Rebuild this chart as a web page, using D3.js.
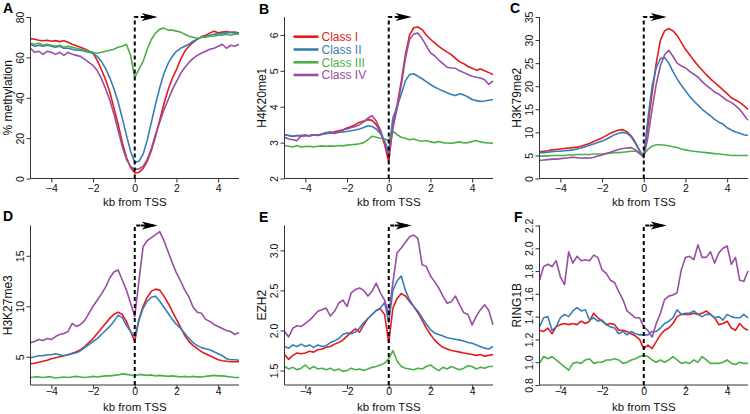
<!DOCTYPE html>
<html><head><meta charset="utf-8">
<script src="https://cdn.jsdelivr.net/npm/d3@7"></script>
<style>
body{margin:0;background:#fff}
svg{display:block;font-family:"Liberation Sans",Arial,Helvetica,sans-serif}
</style>
</head><body>
<svg id="chart" width="750" height="414"></svg>
<script>
// ---------- data ----------
const kb = [-5,-4.8,-4.6,-4.4,-4.2,-4,-3.8,-3.6,-3.4,-3.2,-3,-2.8,-2.6,-2.4,-2.2,-2,-1.8,-1.6,-1.4,-1.2,-1,-0.8,-0.6,-0.4,-0.2,0,0.2,0.4,0.6,0.8,1,1.2,1.4,1.6,1.8,2,2.2,2.4,2.6,2.8,3,3.2,3.4,3.6,3.8,4,4.2,4.4,4.6,4.8,5];
const classes = ["Class I","Class II","Class III","Class IV"];
const xTicks = [-4,-2,0,2,4];

// A: % methylation
const meth_I   = [69.3,69,68.5,68.2,68.5,68,68.3,67.8,68.2,67.5,66.5,65.8,65,64.2,63.2,62,58.5,54,49,43,35,27,18,10.5,5.5,2.8,3,5,8.5,14,21,29,37,44,49.5,54,59,63,65.5,67.5,69,70.3,71,72,73,72.2,72.5,72.8,72.3,72.5,72];
const meth_II  = [66.5,65.5,66,65.5,66,65.5,65,65.5,64.5,64.5,64,63.5,63.5,63,62.5,62,60.5,58,54.5,50,44.5,38,30,21.5,13.5,8,8.5,12,19,28,37,45,52,57,60.5,63,64.5,65.5,66.5,68,69,70,70.5,71,71.5,71.5,72,72,72.5,72,72];
const meth_III = [67,66.5,67,66,66.5,66,65.5,66,65,65.5,65,64.5,64,63.5,63,62.5,62,62.5,63,63.5,64,65,65.5,66.5,61,50,54,58,64,69,72,74,74.5,73.5,73.5,73,72.5,71.5,70.5,70,69.5,70,70,70.5,70.5,71,71,71.5,71,71.5,71.5];
const meth_IV  = [64.5,62.5,63,61.5,63,62.5,61.5,62.5,61,62.5,61.5,61,60.5,59,57.5,56,53.5,49.5,44.5,39,32,24,16,9.5,6,4.5,4.8,6,9.5,15,22,28,34,39,44,48,52,55,57.5,59.5,61,62,63,64,64.5,65.5,66.5,64.5,66,65.5,66.5];
const methTicks = [0,20,40,60,80];

// B: H4K20me1
const h4k20_I   = [3.22,3.2,3.17,3.2,3.18,3.19,3.2,3.22,3.2,3.24,3.27,3.26,3.3,3.33,3.36,3.41,3.45,3.5,3.57,3.6,3.64,3.62,3.5,3.3,2.95,2.45,3.5,4.05,4.7,5.45,6.0,6.2,6.22,6.15,6.0,5.88,5.78,5.68,5.6,5.52,5.45,5.35,5.25,5.2,5.12,5.07,5.02,5.05,5.0,4.95,4.9];
const h4k20_II  = [3.22,3.2,3.18,3.2,3.2,3.19,3.2,3.21,3.22,3.23,3.25,3.26,3.27,3.28,3.3,3.31,3.33,3.35,3.38,3.42,3.47,3.45,3.38,3.25,3.05,2.75,3.7,4.0,4.35,4.72,4.9,4.92,4.85,4.78,4.7,4.62,4.55,4.49,4.44,4.39,4.34,4.31,4.36,4.33,4.27,4.2,4.17,4.15,4.16,4.18,4.2];
const h4k20_III = [2.92,2.9,2.88,2.92,2.88,2.89,2.9,2.88,2.9,2.91,2.9,2.91,2.9,2.92,2.91,2.93,2.94,2.95,2.97,3.0,3.08,3.18,3.15,3.12,3.1,3.05,3.32,3.22,3.15,3.12,3.08,3.1,3.06,3.04,3.06,3.02,3.0,3.03,3.0,2.99,2.98,3.0,3.02,2.99,3.0,3.03,3.06,3.02,3.0,2.99,2.98];
const h4k20_IV  = [3.15,3.1,3.08,3.05,3.2,3.22,3.18,3.22,3.2,3.24,3.28,3.3,3.25,3.3,3.35,3.38,3.42,3.45,3.5,3.58,3.68,3.75,3.6,3.35,3.0,2.6,3.4,3.95,4.6,5.35,5.88,6.03,6.05,5.9,5.7,5.5,5.42,5.3,5.2,5.1,5.08,5.07,5.0,4.95,4.9,4.85,4.82,4.8,4.75,4.62,4.72];
const h4k20Ticks = [2,3,4,5,6];

// C: H3K79me2
const h3k79_I   = [5.8,5.9,6.0,6.2,6.3,6.4,6.5,6.6,6.7,6.8,7.0,7.3,7.6,8.0,8.4,8.8,9.3,9.8,10.2,10.5,10.6,10.1,9.2,7.8,6.1,4.5,11.5,18.5,25,30,32,32.5,32,31,29.5,28,26.8,25.6,24.5,23.5,22.5,21.6,20.8,20,19.2,18.4,17.5,17,16.5,15.8,15];
const h3k79_II  = [5.6,5.6,5.7,5.8,5.9,5.9,6.0,6.1,6.2,6.4,6.6,6.9,7.2,7.5,7.8,8.1,8.5,9.0,9.5,9.8,10.0,9.8,9.0,7.6,6.0,4.8,13,20,24,26,26.2,25,23.2,21.6,20.2,19,17.8,16.8,15.9,15,14.3,13.6,12.8,12.2,11.8,11.0,10.5,10.1,9.8,9.5,9.3];
const h3k79_III = [4.8,4.9,4.9,5.0,5.0,5.0,5.0,5.1,5.1,5.2,5.2,5.2,5.2,5.3,5.3,5.3,5.4,5.5,5.6,5.6,5.7,5.8,5.9,5.9,5.7,5.2,6.3,7.0,7.3,7.3,7.2,7.1,6.9,6.7,6.4,6.2,6.0,5.9,5.8,5.7,5.6,5.5,5.4,5.3,5.2,5.1,5.0,5.0,5.0,5.0,5.0];
const h3k79_IV  = [3.9,4.0,4.1,4.2,4.2,4.3,4.4,4.5,4.6,4.5,4.4,4.5,4.4,4.6,4.9,5.1,5.4,5.7,6.0,6.3,6.5,6.6,6.7,6.2,5.4,4.6,9,15,20.5,24.5,26.8,27.8,26.5,25,24.4,24,23.2,22.6,22,21,20.2,19.5,18.7,18.3,17.6,16.9,16.5,15.8,15,13.8,12.6];
const h3k79Ticks = [0,5,10,15,20,25,30,35];

// D: H3K27me3
const h3k27_I   = [4.3,4.35,4.45,4.55,4.65,4.8,4.9,5.0,5.1,5.2,5.35,5.5,5.7,6.0,6.4,6.8,7.3,7.8,8.3,8.8,9.2,9.4,9.2,8.5,7.5,6.5,8.7,10.0,10.9,11.5,11.7,11.6,11.0,10.3,9.5,8.7,7.9,7.1,6.5,6.1,5.8,5.5,5.3,5.1,4.9,4.7,4.6,4.55,4.5,4.5,4.5];
const h3k27_II  = [4.9,5.0,5.1,5.1,5.2,5.2,5.3,5.2,5.1,5.2,5.3,5.4,5.6,5.9,6.2,6.5,6.8,7.2,7.6,8.0,8.5,9.1,8.9,8.1,7.5,7.0,8.6,9.8,10.5,10.9,11.0,10.5,9.9,9.3,8.7,8.2,7.8,7.3,6.8,6.4,6.1,5.9,5.8,5.7,5.5,5.3,5.1,4.8,4.7,4.7,4.65];
const h3k27_III = [2.95,3.0,3.0,2.95,3.0,3.0,2.9,2.95,3.0,2.95,3.0,3.05,3.0,2.95,3.0,3.05,3.0,3.05,3.1,3.1,3.15,3.2,3.3,3.25,3.2,3.1,3.25,3.2,3.15,3.2,3.1,3.15,3.1,3.05,3.1,3.05,3.0,3.05,3.0,3.05,3.0,3.0,3.05,3.1,3.15,3.1,3.1,3.05,3.0,2.95,2.95];
const h3k27_IV  = [6.4,6.5,6.7,6.6,6.8,6.7,7.0,7.2,7.3,7.5,8.3,8.0,8.2,8.6,9.3,10.0,10.6,11.2,11.9,12.8,13.4,13.6,12.6,11.6,10.3,9.0,12.5,15.9,16.5,16.8,17.1,17.4,16.5,15.4,14.3,13.3,12.5,11.6,10.9,9.9,9.4,9.3,8.7,8.5,8.2,8.0,7.8,7.6,7.5,7.2,7.4];
const h3k27Ticks = [5,10,15];

// E: EZH2
const ezh2_I   = [1.7,1.64,1.69,1.72,1.71,1.72,1.74,1.73,1.76,1.77,1.79,1.8,1.83,1.85,1.88,1.93,1.98,2.02,1.98,2.07,2.15,2.2,2.25,2.27,2.2,1.85,2.28,2.4,2.46,2.43,2.36,2.3,2.22,2.13,2.03,1.95,1.88,1.83,1.79,1.77,1.75,1.74,1.73,1.72,1.71,1.7,1.69,1.7,1.68,1.69,1.7];
const ezh2_II  = [1.8,1.78,1.82,1.8,1.83,1.8,1.82,1.79,1.82,1.8,1.81,1.85,1.87,1.9,1.95,1.97,1.96,1.98,2.03,2.1,2.15,2.2,2.25,2.28,2.35,2.1,2.5,2.62,2.68,2.5,2.38,2.3,2.24,2.16,2.08,2.01,1.97,1.95,1.93,1.91,1.9,1.89,1.88,1.87,1.85,1.84,1.82,1.8,1.78,1.77,1.8];
const ezh2_III = [1.55,1.52,1.54,1.51,1.53,1.57,1.52,1.55,1.52,1.53,1.51,1.53,1.5,1.52,1.49,1.5,1.53,1.51,1.52,1.5,1.52,1.54,1.55,1.57,1.59,1.65,1.75,1.62,1.55,1.53,1.52,1.51,1.53,1.52,1.55,1.57,1.53,1.5,1.54,1.52,1.55,1.53,1.51,1.53,1.56,1.55,1.52,1.54,1.53,1.55,1.55];
const ezh2_IV  = [1.99,1.92,2.03,2.06,2.05,2.09,2.13,2.18,2.24,2.26,2.28,2.18,2.24,2.34,2.38,2.3,2.47,2.51,2.53,2.5,2.43,2.49,2.59,2.47,2.38,2.2,2.6,2.97,3.03,3.1,3.17,3.19,3.15,2.82,2.8,2.68,2.61,2.53,2.43,2.34,2.36,2.43,2.32,2.22,2.2,2.07,2.18,2.26,2.32,2.25,2.07];
const ezh2Ticks = [1.5,2.0,2.5,3.0];

// F: RING1B
const ring1b_I   = [1.28,1.27,1.3,1.25,1.31,1.33,1.34,1.33,1.34,1.33,1.36,1.34,1.36,1.43,1.39,1.36,1.33,1.34,1.33,1.28,1.28,1.27,1.25,1.23,1.2,1.12,1.15,1.12,1.18,1.24,1.28,1.3,1.34,1.4,1.42,1.42,1.42,1.43,1.42,1.43,1.45,1.42,1.39,1.33,1.34,1.36,1.3,1.28,1.34,1.3,1.28];
const ring1b_II  = [1.31,1.39,1.4,1.28,1.31,1.39,1.42,1.4,1.45,1.48,1.45,1.46,1.37,1.39,1.36,1.37,1.33,1.31,1.3,1.25,1.27,1.24,1.27,1.25,1.24,1.24,1.24,1.27,1.27,1.3,1.34,1.36,1.39,1.46,1.42,1.43,1.43,1.45,1.42,1.4,1.42,1.42,1.39,1.4,1.37,1.42,1.4,1.39,1.39,1.42,1.39];
const ring1b_III = [0.99,1.05,1.03,1.05,1.02,0.99,0.96,0.93,0.99,1.0,0.99,1.02,1.03,0.99,1.0,1.0,1.02,1.02,1.03,1.02,0.99,1.0,1.02,1.03,1.05,1.06,1.05,1.02,1.0,1.02,1.0,1.02,1.05,1.02,0.99,1.0,0.99,1.02,1.0,1.05,1.02,0.99,0.99,0.99,1.0,1.02,0.99,0.98,1.0,0.99,0.99];
const ring1b_IV  = [1.72,1.84,1.86,1.84,1.89,1.75,1.68,1.97,1.87,1.93,1.89,1.9,1.89,1.94,1.92,1.81,1.78,1.72,1.7,1.62,1.55,1.45,1.42,1.39,1.39,1.31,1.28,1.22,1.34,1.43,1.55,1.58,1.59,1.61,1.81,1.92,1.93,1.9,2.03,1.92,1.92,1.97,1.87,1.96,2.0,2.02,1.86,1.92,1.72,1.71,1.8];
const ring1bTicks = [0.8,1.0,1.2,1.4,1.6,1.8,2.0,2.2];

// ---------- layout / style ----------
const colors = ["#e41a1c","#377eb8","#4daf4a","#984ea3"];
const colLeft = [30.5, 284.5, 539.5];
const plotW = 208.5;
const rowTop = [17, 225.5];
const rowBottom = [178.5, 385];
const tickLabelOff = [6, 3];
const titleBase = [205.5, 410.5];

const panels = [
  {letter:"A", lx:3,   ly:13,  ylab:"% methylation", dom:[0,80],    ticks:methTicks,  fmt:d3.format("d"),   series:[meth_I,meth_II,meth_III,meth_IV], c:0, r:0},
  {letter:"B", lx:259, ly:14,  ylab:"H4K20me1",      dom:[2,6.5],   ticks:h4k20Ticks, fmt:d3.format("d"),   series:[h4k20_I,h4k20_II,h4k20_III,h4k20_IV], c:1, r:0, legend:true},
  {letter:"C", lx:510, ly:13,  ylab:"H3K79me2",      dom:[0,35],    ticks:h3k79Ticks, fmt:d3.format("d"),   series:[h3k79_I,h3k79_II,h3k79_III,h3k79_IV], c:2, r:0},
  {letter:"D", lx:3,   ly:221, ylab:"H3K27me3",      dom:[2.2,18],  ticks:h3k27Ticks, fmt:d3.format("d"),   series:[h3k27_I,h3k27_II,h3k27_III,h3k27_IV], c:0, r:1},
  {letter:"E", lx:259, ly:222, ylab:"EZH2",          dom:[1.32,3.31],ticks:ezh2Ticks, fmt:d3.format(".1f"), series:[ezh2_I,ezh2_II,ezh2_III,ezh2_IV], c:1, r:1},
  {letter:"F", lx:514, ly:222, ylab:"RING1B",        dom:[0.8,2.2], ticks:ring1bTicks,fmt:d3.format(".1f"), series:[ring1b_I,ring1b_II,ring1b_III,ring1b_IV], c:2, r:1}
];

const svg = d3.select("#chart");
const minus = s => String(s).replace("-", "\u2212");

panels.forEach(p => {
  const x0 = colLeft[p.c], y0 = rowTop[p.r], y1 = rowBottom[p.r];
  const x = d3.scaleLinear().domain([-5,5]).range([x0, x0 + plotW]);
  const y = d3.scaleLinear().domain(p.dom).range([y1, y0]);
  const g = svg.append("g");

  // series
  const line = d3.line().x((d,i) => x(kb[i])).y(d => y(d));
  p.series.forEach((s, k) => {
    g.append("path").datum(s).attr("d", line)
      .attr("fill","none").attr("stroke", colors[k])
      .attr("stroke-width", 1.6).attr("stroke-linejoin","round");
  });

  // axes
  const xa = g.append("g").attr("transform", `translate(0,${y1})`)
    .call(d3.axisBottom(x).tickValues(xTicks).tickSize(4).tickSizeOuter(0).tickFormat(d => minus(d)));
  xa.select(".domain").remove();
  xa.selectAll("line").attr("stroke","#333");
  xa.selectAll("text").attr("font-size", 10.5).attr("fill","#111").attr("y", tickLabelOff[p.r]).attr("dy","0.71em")
    .attr("font-family","'Liberation Sans',Arial,sans-serif");

  const ya = g.append("g").attr("transform", `translate(${x0},0)`)
    .call(d3.axisLeft(y).tickValues(p.ticks).tickSize(4).tickSizeOuter(0).tickFormat(p.fmt));
  ya.select(".domain").remove();
  ya.selectAll("line").attr("stroke","#333");
  ya.selectAll("text").attr("font-size", 10.5).attr("fill","#111")
    .attr("transform","rotate(-90)").attr("x", 0).attr("y", -7).attr("dy", 0)
    .attr("text-anchor","middle").attr("font-family","'Liberation Sans',Arial,sans-serif");

  // L-shaped frame
  g.append("path").attr("d", `M${x0},${y0}V${y1}H${x0+plotW}`)
    .attr("fill","none").attr("stroke","#333").attr("stroke-width",1);

  // axis titles
  g.append("text").attr("x", x(0)).attr("y", titleBase[p.r]).attr("text-anchor","middle")
    .attr("font-size", 11.5).attr("fill","#111").text("kb from TSS");
  g.append("text").attr("transform", `translate(${x0 - 19},${(y0 + y1) / 2}) rotate(-90)`)
    .attr("text-anchor","middle").attr("font-size", 12).attr("fill","#111").text(p.ylab);

  // TSS dashed line + arrow
  const tx = x(0);
  g.append("path").attr("d", `M${tx},${y1}V${y0}H${tx + 6}`)
    .attr("fill","none").attr("stroke","#000").attr("stroke-width",2).attr("stroke-dasharray","4,3");
  const tip = x(1.1);
  g.append("path").attr("d", `M${tx+6},${y0}H${tip-4}`).attr("stroke","#000").attr("stroke-width",2);
  g.append("path")
    .attr("d", `M${tip},${y0} L${tip-16},${y0-4} L${tip-12},${y0} L${tip-16},${y0+4} Z`)
    .attr("fill","#000");

  // panel letter
  svg.append("text").attr("x", p.lx).attr("y", p.ly).attr("font-size", 14)
    .attr("font-weight","bold").attr("fill","#000").text(p.letter);

  // legend
  if (p.legend) {
    const ly = [36.7, 49.5, 62.3, 75];
    classes.forEach((cname, k) => {
      g.append("line").attr("x1", 293.5).attr("x2", 318.5).attr("y1", ly[k]).attr("y2", ly[k])
        .attr("stroke", colors[k]).attr("stroke-width", 2.6);
      g.append("text").attr("x", 321.5).attr("y", ly[k]).attr("dy","0.35em")
        .attr("font-size", 12).attr("fill", colors[k]).text(cname);
    });
  }
});
</script>
</body></html>
